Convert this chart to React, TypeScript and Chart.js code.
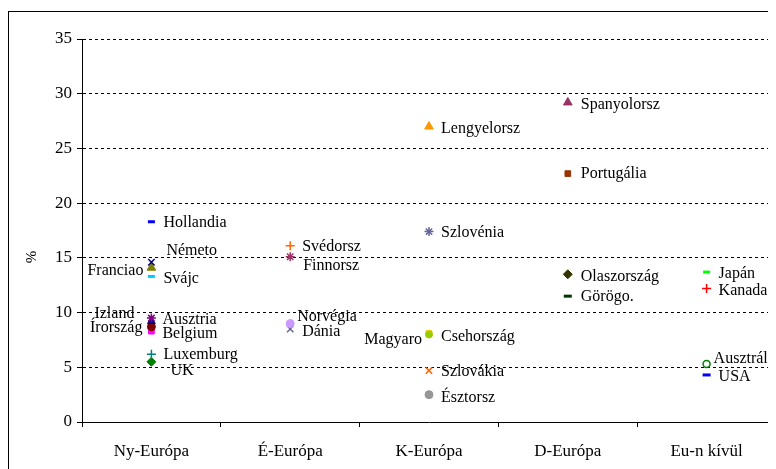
import { useEffect, useRef } from "react";
import { Chart, registerables } from "chart.js";

Chart.register(...registerables);

// ---- data ----
const regions = ["Ny-Európa", "É-Európa", "K-Európa", "D-Európa", "Eu-n kívül"];
const yTickValues = [0, 5, 10, 15, 20, 25, 30, 35];
const yTitle = "%";

const countries = [
  "Hollandia", "Németo", "Franciao", "Svájc", "Izland", "Ausztria", "Írország", "Belgium", "Luxemburg", "UK",
  "Svédorsz", "Finnorsz", "Norvégia", "Dánia",
  "Lengyelorsz", "Szlovénia", "Csehország", "Magyaro", "Szlovákia", "Észtorsz",
  "Spanyolorsz", "Portugália", "Olaszország", "Görögo.",
  "Japán", "Kanada", "Ausztrália", "USA",
];
const countryRegion = [
  "Ny-Európa", "Ny-Európa", "Ny-Európa", "Ny-Európa", "Ny-Európa", "Ny-Európa", "Ny-Európa", "Ny-Európa", "Ny-Európa", "Ny-Európa",
  "É-Európa", "É-Európa", "É-Európa", "É-Európa",
  "K-Európa", "K-Európa", "K-Európa", "K-Európa", "K-Európa", "K-Európa",
  "D-Európa", "D-Európa", "D-Európa", "D-Európa",
  "Eu-n kívül", "Eu-n kívül", "Eu-n kívül", "Eu-n kívül",
];
const values = [
  18.3, 14.6, 14.1, 13.3, 9.5, 9.2, 8.7, 8.3, 6.2, 5.5,
  16.1, 15.1, 9.0, 8.5,
  27.0, 17.4, 8.0, 8.1, 4.7, 2.5,
  29.2, 22.7, 13.5, 11.5,
  13.7, 12.2, 5.3, 4.3,
];

// ---- styles (marker look and label placement) ----
type St = { ps: string; c: string; f?: string; r: number; bw: number; dx: number; dy: number; al: CanvasTextAlign };
const styles: St[] = [
  { ps: "line", c: "#0000FF", r: 3.5, bw: 3, dx: 12, dy: 1, al: "left" },
  { ps: "crossRot", c: "#000080", r: 4.5, bw: 1.5, dx: 15, dy: -11, al: "left" },
  { ps: "triangle", c: "#808000", r: 5, bw: 1, dx: -8, dy: 3, al: "right" },
  { ps: "line", c: "#00CCFF", r: 3.5, bw: 3, dx: 12, dy: 2, al: "left" },
  { ps: "star", c: "#800080", r: 4.5, bw: 1.5, dx: -17, dy: -4, al: "right" },
  { ps: "triangle", c: "#000080", r: 4.5, bw: 1, dx: 11, dy: -2, al: "left" },
  { ps: "circle", c: "#800000", r: 4, bw: 1, dx: -9, dy: 1, al: "right" },
  { ps: "rect", c: "#FF00FF", r: 4, bw: 1, dx: 11, dy: 3, al: "left" },
  { ps: "cross", c: "#008080", r: 4.5, bw: 1.5, dx: 12, dy: 1, al: "left" },
  { ps: "rectRot", c: "#008000", r: 4.5, bw: 1, dx: 19, dy: 9, al: "left" },
  { ps: "cross", c: "#FF6600", r: 4.5, bw: 1.5, dx: 12, dy: 1, al: "left" },
  { ps: "star", c: "#993366", r: 4.5, bw: 1.5, dx: 13, dy: 9, al: "left" },
  { ps: "circle", c: "#CC99FF", r: 4, bw: 1, dx: 7, dy: -7, al: "left" },
  { ps: "crossRot", c: "#666699", r: 4.5, bw: 1.5, dx: 12, dy: 3, al: "left" },
  { ps: "triangle", c: "#FF9900", r: 5, bw: 1, dx: 12, dy: 2, al: "left" },
  { ps: "star", c: "#666699", r: 4.5, bw: 1.5, dx: 12, dy: 1, al: "left" },
  { ps: "circle", c: "#99CC00", r: 3.5, bw: 1, dx: 12, dy: 2, al: "left" },
  { ps: "rect", c: "#FFCC00", r: 4, bw: 1, dx: -7, dy: 6, al: "right" },
  { ps: "crossRot", c: "#FF6600", r: 4.5, bw: 1.5, dx: 12, dy: 1, al: "left" },
  { ps: "circle", c: "#969696", r: 4, bw: 1, dx: 12, dy: 3, al: "left" },
  { ps: "triangle", c: "#993366", r: 5, bw: 1, dx: 13, dy: 2, al: "left" },
  { ps: "rect", c: "#993300", r: 4, bw: 1, dx: 13, dy: 0, al: "left" },
  { ps: "rectRot", c: "#333300", r: 4.5, bw: 1, dx: 13, dy: 3, al: "left" },
  { ps: "line", c: "#003300", r: 4, bw: 3, dx: 13, dy: 1, al: "left" },
  { ps: "line", c: "#00FF00", r: 3.5, bw: 3, dx: 12, dy: 2, al: "left" },
  { ps: "cross", c: "#FF0000", r: 4.5, bw: 1.5, dx: 12, dy: 2, al: "left" },
  { ps: "circle", c: "#008000", f: "#FFFFFF", r: 3.5, bw: 1.5, dx: 7, dy: -5, al: "left" },
  { ps: "line", c: "#0000FF", r: 4, bw: 3, dx: 12, dy: 2, al: "left" },
];

const FONT = "'Liberation Serif', 'Times New Roman', serif";

const labelPlugin = {
  id: "pointLabels",
  afterDatasetsDraw(chart: any) {
    const ctx = chart.ctx as CanvasRenderingContext2D;
    ctx.save();
    ctx.beginPath();
    ctx.rect(0, 0, 767, 461);
    ctx.clip();
    ctx.font = `16px ${FONT}`;
    ctx.fillStyle = "#000";
    ctx.textBaseline = "middle";
    chart.data.datasets.forEach((ds: any, i: number) => {
      const el = chart.getDatasetMeta(i).data[0];
      if (!el) return;
      const s = styles[i];
      ctx.textAlign = s.al;
      ctx.fillText(countries[i], el.x + s.dx, el.y + s.dy);
    });
    ctx.restore();
  },
};

const framePlugin = {
  id: "frame",
  afterDraw(chart: any) {
    const ctx = chart.ctx as CanvasRenderingContext2D;
    ctx.save();
    ctx.strokeStyle = "#000";
    ctx.lineWidth = 1;
    ctx.strokeRect(0.5, 3.5, 766, 520);
    ctx.font = `15px ${FONT}`;
    ctx.fillStyle = "#000";
    ctx.textAlign = "center";
    ctx.textBaseline = "middle";
    ctx.translate(24, 249);
    ctx.rotate(-Math.PI / 2);
    ctx.fillText(yTitle, 0, 0);
    ctx.restore();
  },
};

export default function App() {
  const ref = useRef<HTMLCanvasElement>(null);
  useEffect(() => {
    if (!ref.current) return;
    const datasets = countries.map((name, i) => {
      const s = styles[i];
      return {
        label: name,
        data: [{ x: countryRegion[i], y: values[i] }],
        showLine: false,
        clip: false,
        pointStyle: s.ps,
        pointRadius: s.r,
        pointHoverRadius: s.r,
        pointBorderWidth: s.bw,
        pointBorderColor: s.c,
        pointBackgroundColor: s.f || s.c,
        borderColor: s.c,
        backgroundColor: s.f || s.c,
      };
    });
    const chart = new Chart(ref.current, {
      type: "line",
      data: { labels: regions, datasets: datasets as any },
      options: {
        responsive: false,
        animation: false,
        events: [],
        layout: { autoPadding: false, padding: { top: 31, left: 0, right: 0, bottom: 0 } },
        plugins: { legend: { display: false }, tooltip: { enabled: false } },
        scales: {
          x: {
            type: "category",
            offset: true,
            grid: { offset: true, drawOnChartArea: false, color: "#000", tickLength: 5, tickColor: "#000" },
            border: { color: "#000", width: 1 },
            ticks: { color: "#000", font: { family: FONT, size: 17 }, padding: 14, maxRotation: 0 },
            afterFit: (s: any) => { s.height = 47; },
          },
          y: {
            type: "linear",
            min: 0,
            max: 35,
            afterBuildTicks: (s: any) => { s.ticks = yTickValues.map((v) => ({ value: v })); },
            grid: { color: "#000", tickLength: 5, tickColor: "#000", lineWidth: 1 },
            border: { color: "#000", width: 1, dash: [3, 3] },
            ticks: { color: "#000", font: { family: FONT, size: 17 }, padding: 5 },
            afterFit: (s: any) => { s.width = 74; },
          },
        },
      },
      plugins: [labelPlugin, framePlugin],
    });
    return () => chart.destroy();
  }, []);
  return <canvas ref={ref} width={768} height={461} style={{ display: "block" }} />;
}
